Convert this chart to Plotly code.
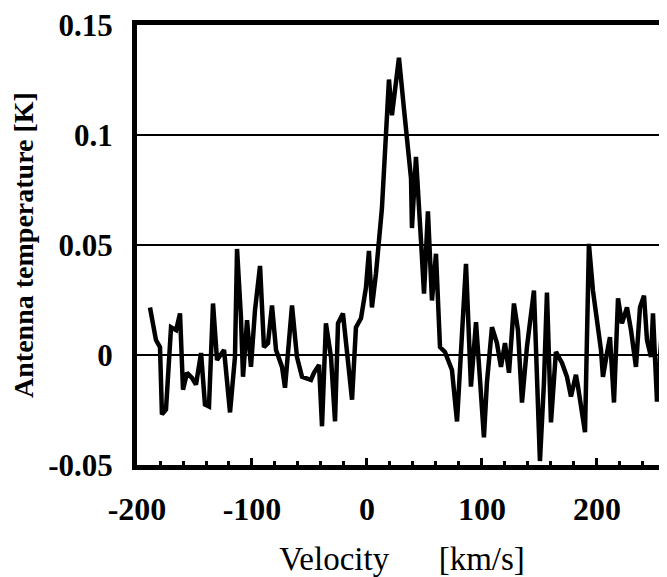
import plotly.graph_objects as go

velocity = [-188.7, -183.5, -180.0, -178.3, -174.8, -170.4, -166.0, -162.6, -160.0, -156.5,
            -152.2, -148.7, -144.3, -140.9, -137.4, -133.9, -130.4, -124.3, -119.1, -114.8,
            -113.0, -109.6, -107.8, -104.3, -100.9, -97.4, -93.0, -89.6, -86.1, -82.6,
            -79.1, -73.9, -71.3, -68.7, -65.2, -60.9, -56.5, -48.7, -46.1, -41.7,
            -39.1, -35.7, -31.3, -27.8, -25.2, -20.9, -17.4, -13.0, -9.6, -5.2,
            -0.9, 1.7, 4.3, 7.8, 13.0, 19.1, 21.7, 24.3, 27.8, 32.2,
            38.3, 39.1, 42.6, 47.0, 49.6, 53.0, 56.5, 60.0, 63.5, 67.8,
            73.9, 78.3, 82.6, 86.1, 90.4, 94.8, 98.3, 101.7, 104.3, 108.7,
            113.0, 116.5, 120.0, 123.5, 127.8, 131.3, 134.8, 139.1, 145.2, 147.0,
            150.4, 153.9, 156.5, 160.0, 164.3, 169.6, 173.9, 177.4, 181.7, 183.5,
            189.6, 193.0, 196.5, 203.5, 205.2, 208.7, 211.3, 214.8, 218.3, 221.7,
            226.1, 229.6, 233.9, 237.4, 240.9, 243.5, 247.0, 248.7, 252.2, 254.8,
            258.3, 263.0]
temperature = [0.0216, 0.0068, 0.0036, -0.0270, -0.0248, 0.0126, 0.0113, 0.0189, -0.0158, -0.0081,
               -0.0104, -0.0135, 0.0009, -0.0225, -0.0234, 0.0234, -0.0023, 0.0023, -0.0261, -0.0009,
               0.0482, 0.0171, -0.0099, 0.0158, -0.0054, 0.0203, 0.0405, 0.0036, 0.0054, 0.0225,
               0.0023, -0.0054, -0.0149, 0.0023, 0.0225, -0.0009, -0.0099, -0.0113, -0.0081, -0.0045,
               -0.0324, 0.0144, -0.0009, -0.0302, 0.0144, 0.0189, 0.0023, -0.0203, 0.0126, 0.0167,
               0.0306, 0.0473, 0.0216, 0.0369, 0.0667, 0.1252, 0.1090, 0.1194, 0.1351, 0.1117,
               0.0802, 0.0577, 0.0901, 0.0518, 0.0279, 0.0653, 0.0248, 0.0460, 0.0036, 0.0014,
               -0.0068, -0.0302, 0.0113, 0.0414, -0.0144, 0.0149, -0.0113, -0.0374, -0.0126, 0.0126,
               0.0054, -0.0054, 0.0054, -0.0081, 0.0234, 0.0113, -0.0216, 0.0036, 0.0293, 0.0023,
               -0.0482, -0.0126, 0.0284, -0.0306, 0.0014, -0.0036, -0.0099, -0.0189, -0.0090, -0.0144,
               -0.0351, 0.0505, 0.0293, 0.0023, -0.0099, 0.0009, 0.0081, -0.0216, 0.0257, 0.0144,
               0.0216, 0.0113, -0.0054, 0.0216, 0.0270, 0.0068, -0.0009, 0.0189, -0.0212, -0.0009,
               0.0239, 0.0050]

x_tick_vals = [-200, -100, 0, 100, 200]
x_tick_text = ["-200", "-100", "0", "100", "200"]
y_tick_vals = [-0.05, 0, 0.05, 0.1, 0.15]
y_tick_text = ["-0.05", "0", "0.05", "0.1", "0.15"]

fig = go.Figure()
fig.add_trace(go.Scatter(x=velocity, y=temperature, mode="lines",
                         line=dict(color="black", width=4.5), showlegend=False))

x_font = dict(family="Liberation Serif", size=32, color="black", weight="bold")
y_font = dict(family="Liberation Serif", size=31, color="black", weight="bold")

fig.update_layout(
    width=659, height=569,
    margin=dict(l=129, r=0, t=17, b=112),
    paper_bgcolor="white", plot_bgcolor="white",
    xaxis=dict(
        range=[-200, 260.9], automargin=False,
        tickvals=x_tick_vals, ticktext=x_tick_text,
        ticks="inside", ticklen=7, tickwidth=3, tickcolor="black",
        minor=dict(dtick=20, tick0=0, ticks="inside", ticklen=4, tickwidth=3, tickcolor="black", showgrid=False),
        showgrid=False, zeroline=False,
        showline=True, linecolor="black", linewidth=5, mirror=True,
        tickfont=x_font, ticklabelstandoff=12, ticklabeloverflow="allow",
        title=dict(text="Velocity\u00a0\u00a0\u00a0\u00a0\u00a0\u00a0[km/s]",
                   font=dict(family="Liberation Serif", size=33, color="black"), standoff=22),
    ),
    yaxis=dict(
        range=[-0.05, 0.15], automargin=False,
        tickvals=y_tick_vals, ticktext=y_tick_text,
        ticks="", showgrid=True, gridcolor="black", gridwidth=1.5, zeroline=False,
        showline=True, linecolor="black", linewidth=5, mirror=False,
        tickfont=y_font, ticklabelstandoff=13, ticklabeloverflow="allow",
        title=dict(text="Antenna temperature [K]",
                   font=dict(family="Liberation Serif", size=28, color="black", weight="bold"), standoff=19),
    ),
)

fig.write_html("out.html")
